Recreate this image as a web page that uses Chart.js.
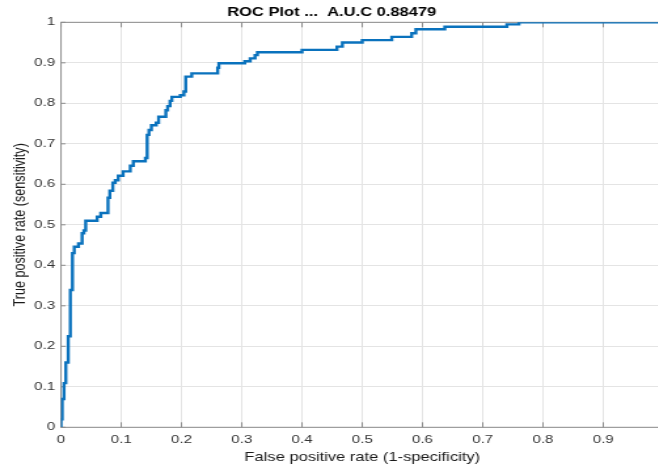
<!DOCTYPE html>
<html>
<head>
<meta charset="utf-8">
<script src="https://cdn.jsdelivr.net/npm/chart.js@4/dist/chart.umd.min.js"></script>
<style>
  html, body { margin:0; padding:0; background:#fff; overflow:hidden; width:658px; height:466px; }
  #wrap { position:absolute; left:0; top:0; width:516px; height:466px; transform:scaleX(1.31); transform-origin:0 0; }
</style>
</head>
<body>
<div id="wrap"><canvas id="c"></canvas></div>
<script>
// ROC curve corners (false positive rate, true positive rate)
const fpr = [0, 0, 0.002, 0.005, 0.008, 0.012, 0.0155, 0.019, 0.022, 0.029, 0.035, 0.038, 0.041,
  0.06, 0.066, 0.078, 0.081, 0.086, 0.09, 0.095, 0.103, 0.115, 0.12, 0.14, 0.143, 0.146, 0.15,
  0.158, 0.162, 0.174, 0.177, 0.181, 0.184, 0.198, 0.204, 0.207, 0.217, 0.26, 0.262, 0.305,
  0.314, 0.322, 0.326, 0.4, 0.458, 0.467, 0.5, 0.549, 0.582, 0.589, 0.637, 0.74, 0.76, 1.0];
const tpr = [0, 0.02, 0.07, 0.109, 0.16, 0.225, 0.339, 0.43, 0.446, 0.454, 0.479, 0.486, 0.51,
  0.52, 0.529, 0.567, 0.584, 0.604, 0.61, 0.621, 0.632, 0.646, 0.657, 0.665, 0.722, 0.734, 0.746,
  0.752, 0.767, 0.783, 0.793, 0.806, 0.816, 0.82, 0.829, 0.866, 0.874, 0.888, 0.899, 0.904,
  0.911, 0.919, 0.926, 0.932, 0.94, 0.95, 0.956, 0.964, 0.973, 0.983, 0.989, 0.995, 1.0, 1.0];
const xTickLabels = ['0','0.1','0.2','0.3','0.4','0.5','0.6','0.7','0.8','0.9','1'];
const yTickLabels = ['0','0.1','0.2','0.3','0.4','0.5','0.6','0.7','0.8','0.9','1'];
const titleText = 'ROC Plot ...  A.U.C 0.88479';
const xTitle = 'False positive rate (1-specificity)';
const yTitle = 'True positive rate (sensitivity)';

const points = fpr.map((v, i) => ({ x: v, y: tpr[i] }));
const FONT = '"Liberation Sans", Arial, Helvetica, sans-serif';
const AXIS = '#8c8c8c';

const boxPlugin = {
  id: 'boxTicks',
  beforeDatasetsDraw(chart) {
    const { ctx, chartArea: a, scales } = chart;
    ctx.save();
    ctx.strokeStyle = AXIS;
    ctx.lineWidth = 1;
    ctx.strokeRect(a.left, a.top, a.right - a.left, a.bottom - a.top);
    ctx.beginPath();
    scales.x.ticks.forEach(t => {
      const px = scales.x.getPixelForValue(t.value);
      ctx.moveTo(px, a.bottom); ctx.lineTo(px, a.bottom - 5);
      ctx.moveTo(px, a.top); ctx.lineTo(px, a.top + 5);
    });
    scales.y.ticks.forEach(t => {
      const py = scales.y.getPixelForValue(t.value);
      ctx.moveTo(a.left, py); ctx.lineTo(a.left + 3.5, py);
      ctx.moveTo(a.right, py); ctx.lineTo(a.right - 3.5, py);
    });
    ctx.stroke();
    ctx.restore();
  }
};

new Chart(document.getElementById('c'), {
  type: 'line',
  data: {
    datasets: [{
      data: points,
      stepped: 'before',
      borderColor: '#0a72bd',
      borderWidth: 2.4,
      pointRadius: 0,
      fill: false
    }]
  },
  options: {
    responsive: true,
    maintainAspectRatio: false,
    animation: false,
    devicePixelRatio: 1,
    layout: { padding: { left: 0, right: 9.5, top: 0, bottom: 0 } },
    plugins: {
      legend: { display: false },
      tooltip: { enabled: false },
      title: {
        display: true,
        text: titleText,
        color: '#000',
        font: { family: FONT, size: 12.6, weight: 'bold' },
        padding: { top: 5.2, bottom: 2.0 }
      }
    },
    scales: {
      x: {
        type: 'linear', min: 0, max: 1,
        afterFit(s) { s.height = 38.7; },
        border: { display: false },
        grid: { color: '#e4e4e4', lineWidth: 1, drawTicks: false },
        ticks: {
          stepSize: 0.1, padding: 6, color: '#333', maxRotation: 0, autoSkip: false,
          font: { family: FONT, size: 11.5 },
          callback: (v) => xTickLabels[Math.round(v * 10)]
        },
        title: {
          display: true, text: xTitle, color: '#1a1a1a',
          font: { family: FONT, size: 12.6 },
          padding: { top: 0, bottom: 1.1 }
        }
      },
      y: {
        type: 'linear', min: 0, max: 1,
        afterFit(s) { s.width = 46.56; },
        border: { display: false },
        grid: { color: '#e4e4e4', lineWidth: 1, drawTicks: false },
        ticks: {
          stepSize: 0.1, padding: 4.5, color: '#333', autoSkip: false,
          font: { family: FONT, size: 11.5 },
          callback: (v) => yTickLabels[Math.round(v * 10)]
        },
        title: {
          display: true, text: yTitle, color: '#1a1a1a',
          font: { family: FONT, size: 12.6 },
          padding: { top: 7.7, bottom: 0 }
        }
      }
    }
  },
  plugins: [boxPlugin]
});
</script>
</body>
</html>
